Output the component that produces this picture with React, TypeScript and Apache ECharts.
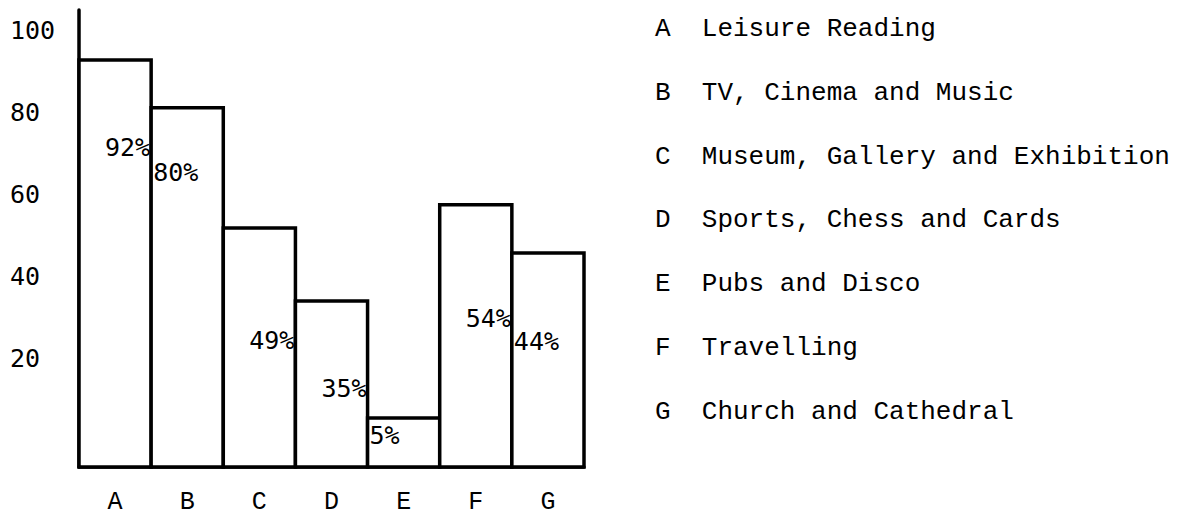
import React, { useEffect, useRef } from "react";
import * as echarts from "echarts";

// ---- data ----
const categories = ["A", "B", "C", "D", "E", "F", "G"];
const activityNames = [
  "Leisure Reading",
  "TV, Cinema and Music",
  "Museum, Gallery and Exhibition",
  "Sports, Chess and Cards",
  "Pubs and Disco",
  "Travelling",
  "Church and Cathedral",
];
// bar heights as drawn, read against the printed y axis
const barHeights = [92.9, 81.2, 51.8, 34.0, 5.4, 57.5, 45.7];
// percentage labels written inside the bars
const percentLabels = [92, 80, 49, 35, 5, 54, 44];
const yTicks = [20, 40, 60, 80, 100];

// ---- layout / style (not data) ----
const Y_MIN = -6.6;
const Y_MAX = 105.1;
// where each percentage label sits: side of the bar and height on the axis
const labelPlacement = [
  { side: "right", at: 71.4 },
  { side: "left", at: 65.5 },
  { side: "right", at: 24.4 },
  { side: "right", at: 12.7 },
  { side: "left", at: 1.2 },
  { side: "right", at: 29.8 },
  { side: "left", at: 24.0 },
];

const MONO_SERIF = '"Liberation Mono", "Courier New", monospace';
const MONO_SANS = '"DejaVu Sans Mono", "Liberation Mono", monospace';

export default function App() {
  const ref = useRef<HTMLDivElement>(null);

  useEffect(() => {
    if (!ref.current) return;
    const chart = echarts.init(ref.current, undefined, { renderer: "svg" });

    const legendTexts = categories.map((c, i) => ({
      type: "text",
      left: 655,
      top: 29 + i * 63.8 - 13,
      style: {
        text: `${c}  ${activityNames[i]}`,
        fontFamily: MONO_SERIF,
        fontSize: 26,
        fill: "#000",
      },
    }));

    chart.setOption({
      animation: false,
      backgroundColor: "#fff",
      grid: { left: 79, right: 609, top: 10, bottom: 51 },
      xAxis: {
        type: "category",
        data: categories,
        boundaryGap: true,
        axisLine: { show: true, onZero: false, lineStyle: { color: "#000", width: 3.5 } },
        axisTick: { show: false },
        axisLabel: {
          color: "#000",
          fontFamily: MONO_SERIF,
          fontSize: 25,
          lineHeight: 22,
          margin: 35,
          verticalAlign: "middle",
        },
        splitLine: { show: false },
      },
      yAxis: {
        type: "value",
        min: Y_MIN,
        max: Y_MAX,
        axisLine: { show: true, lineStyle: { color: "#000", width: 3.5 } },
        axisTick: { show: false },
        splitLine: { show: false },
        axisLabel: {
          customValues: yTicks,
          align: "left",
          margin: 69,
          color: "#000",
          fontFamily: MONO_SANS,
          fontSize: 25,
        },
      },
      series: [
        {
          type: "custom",
          name: "bars",
          data: barHeights.map((v, i) => [i, v]),
          encode: { x: 0, y: 1 },
          renderItem: (params: any, api: any) => {
            const i = api.value(0);
            const v = api.value(1);
            const top = api.coord([i, v]);
            const bottom = api.coord([i, Y_MIN]);
            const w = api.size([1, 0])[0];
            return {
              type: "rect",
              shape: { x: top[0] - w / 2, y: top[1], width: w, height: bottom[1] - top[1] },
              style: { fill: "#fff", stroke: "#000", lineWidth: 3.5 },
            };
          },
          z: 2,
        },
        {
          type: "custom",
          name: "labels",
          data: percentLabels.map((p, i) => [i, p]),
          encode: { x: 0 },
          renderItem: (params: any, api: any) => {
            const i = api.value(0);
            const p = api.value(1);
            const place = labelPlacement[params.dataIndex];
            const pt = api.coord([i, place.at]);
            const w = api.size([1, 0])[0];
            const isRight = place.side === "right";
            return {
              type: "text",
              x: isRight ? pt[0] + w / 2 - 1 : pt[0] - w / 2 + 2,
              y: pt[1],
              style: {
                text: `${p}%`,
                align: isRight ? "right" : "left",
                verticalAlign: "middle",
                fontFamily: MONO_SANS,
                fontSize: 25,
                fill: "#000",
              },
            };
          },
          z: 5,
        },
      ],
      graphic: legendTexts,
    });

    return () => chart.dispose();
  }, []);

  return (
    <div
      ref={ref}
      style={{ position: "absolute", left: 0, top: 0, width: 1193, height: 518 }}
    />
  );
}
